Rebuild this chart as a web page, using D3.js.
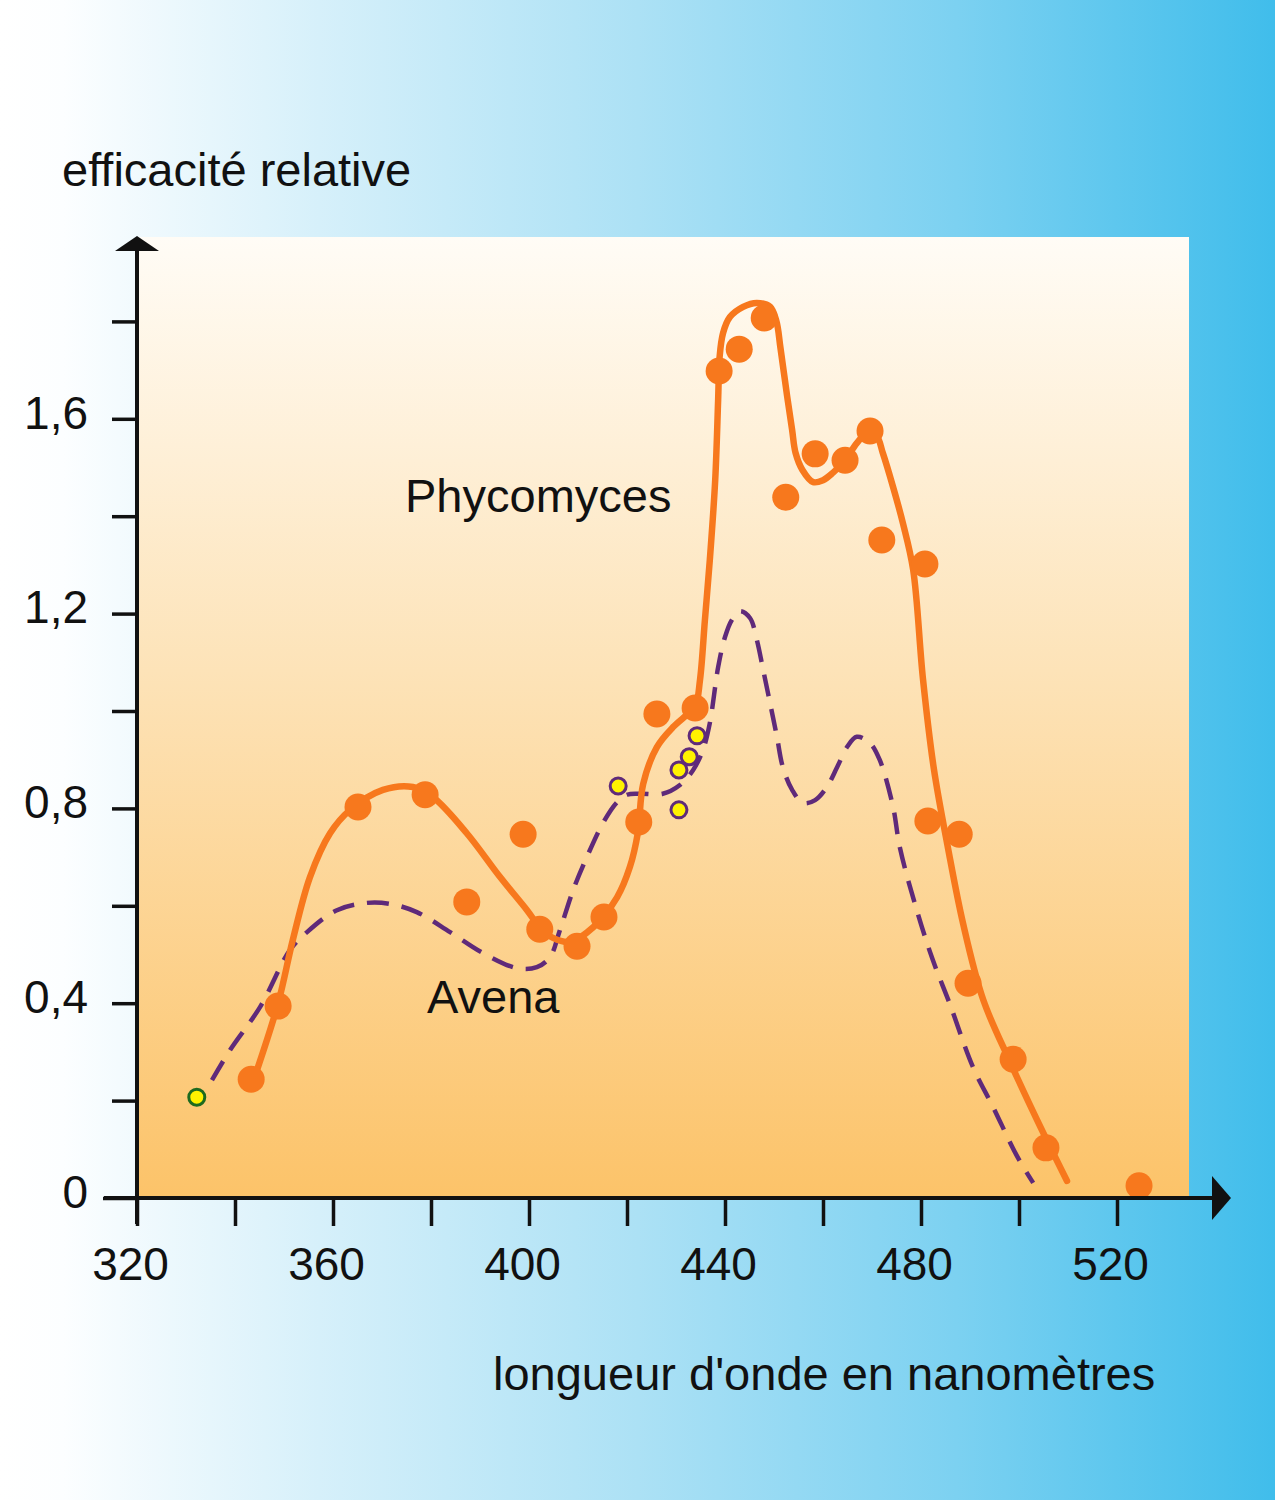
<!DOCTYPE html>
<html>
<head>
<meta charset="utf-8">
<script src="https://cdn.jsdelivr.net/npm/d3@7"></script>
<style>
  html, body { margin: 0; padding: 0; background: #fff; }
  svg { display: block; }
  text { font-family: "Liberation Sans", Arial, sans-serif; fill: #111; }
</style>
</head>
<body>
<svg id="chart" width="1275" height="1500"></svg>
<script>
// ---------- DATA ----------
const xTicks = [320, 340, 360, 380, 400, 420, 440, 460, 480, 500, 520];
const xTickLabels = ["320", "", "360", "", "400", "", "440", "", "480", "", "520"];
const yTicks = [0, 0.2, 0.4, 0.6, 0.8, 1.0, 1.2, 1.4, 1.6, 1.8];
const yTickLabels = ["0", "", "0,4", "", "0,8", "", "1,2", "", "1,6", ""];

// Phycomyces measured points (wavelength nm, relative efficiency)
const phycoX = [343.3, 348.8, 365.1, 378.8, 387.3, 398.8, 402.2, 409.8, 415.3, 422.4, 426.1, 433.9,
                438.8, 442.9, 448.0, 452.4, 458.4, 464.5, 469.6, 472.0, 480.8, 481.4, 487.8, 489.6,
                498.8, 505.5, 524.5];
const phycoY = [0.244, 0.394, 0.803, 0.828, 0.608, 0.747, 0.552, 0.517, 0.577, 0.772, 0.994, 1.006,
                1.698, 1.743, 1.807, 1.439, 1.528, 1.515, 1.575, 1.351, 1.302, 0.774, 0.747, 0.441,
                0.285, 0.103, 0.025];

// Phycomyces fitted curve
const phycoCurveX = [344.3, 348.8, 351.8, 355.3, 359.4, 363.5, 370.2, 376.3, 380.4, 387.3, 394.1, 399.6,
                     402.2, 404.9, 408.4, 413.1, 418.0, 420.6, 422.2, 423.3, 426.1, 429.4, 432.2, 433.9,
                     434.9, 435.9, 436.9, 438.0, 438.6, 438.9, 439.6, 441.0, 443.7, 446.5, 449.2, 450.5,
                     451.3, 452.7, 453.7, 454.4, 455.8, 458.0, 460.0, 462.0, 464.5, 466.9, 469.0, 471.0,
                     472.2, 474.3, 476.3, 478.4, 480.4, 482.6, 485.5, 488.6, 492.7, 498.2, 503.7, 509.8];
const phycoCurveY = [0.257, 0.400, 0.530, 0.659, 0.749, 0.797, 0.838, 0.844, 0.823, 0.749, 0.659, 0.591,
                     0.556, 0.534, 0.526, 0.556, 0.618, 0.680, 0.749, 0.850, 0.926, 0.967, 0.992, 1.008,
                     1.064, 1.187, 1.310, 1.474, 1.639, 1.727, 1.776, 1.809, 1.830, 1.838, 1.830, 1.800,
                     1.747, 1.645, 1.577, 1.530, 1.495, 1.470, 1.474, 1.489, 1.515, 1.550, 1.571, 1.563,
                     1.530, 1.460, 1.386, 1.290, 1.066, 0.883, 0.719, 0.563, 0.407, 0.279, 0.160, 0.035];

// Avena measured points
const avenaX = [332.2, 418.2, 430.6, 432.7, 434.3, 430.6];
const avenaY = [0.207, 0.846, 0.879, 0.906, 0.949, 0.797];

// Avena fitted curve
const avenaCurveX = [335.3, 339.0, 345.1, 351.2, 354.7, 360.8, 366.9, 371.6, 377.1, 383.9, 390.6, 397.6,
                     401.6, 404.3, 406.3, 409.0, 411.8, 415.1, 418.0, 420.0, 422.7, 427.3, 430.8, 433.5,
                     435.5, 436.9, 438.6, 440.0, 441.4, 443.1, 445.1, 446.5, 447.8, 449.2, 450.6, 451.8,
                     453.7, 455.9, 458.4, 460.8, 462.9, 464.9, 466.9, 469.6, 471.6, 474.3, 475.7, 479.2,
                     482.4, 485.9, 490.6, 494.7, 499.6, 502.9];
const avenaCurveY = [0.242, 0.304, 0.392, 0.509, 0.546, 0.591, 0.606, 0.604, 0.587, 0.546, 0.503, 0.472,
                     0.474, 0.495, 0.550, 0.632, 0.700, 0.770, 0.813, 0.828, 0.830, 0.830, 0.848, 0.879,
                     0.920, 0.975, 1.090, 1.152, 1.187, 1.205, 1.191, 1.146, 1.084, 1.016, 0.947, 0.885,
                     0.838, 0.811, 0.817, 0.844, 0.885, 0.926, 0.947, 0.934, 0.899, 0.803, 0.719, 0.589,
                     0.489, 0.398, 0.269, 0.187, 0.086, 0.031];

const title = "efficacité relative";
const xTitle = "longueur d'onde en nanomètres";
const seriesNames = ["Phycomyces", "Avena"];

// ---------- LAYOUT ----------
const W = 1275, H = 1500;
const plot = { left: 137, right: 1189, top: 237, bottom: 1198 };
const orange = "#f7781d", purple = "#5f2a7a", yellow = "#fff200", green = "#1d6a1f";
const tickFont = 46, labelFont = 47;

const svg = d3.select("#chart");
const defs = svg.append("defs");

const bgGrad = defs.append("linearGradient").attr("id", "bgGrad")
  .attr("x1", "0%").attr("x2", "100%").attr("y1", "0%").attr("y2", "0%");
[[0, "#ffffff"], [0.05, "#fcfeff"], [0.25, "#d6f0fa"], [0.5, "#ace1f5"], [0.75, "#7cd1f1"], [1, "#40bdeb"]]
  .forEach(([o, c]) => bgGrad.append("stop").attr("offset", o).attr("stop-color", c));

const plotGrad = defs.append("linearGradient").attr("id", "plotGrad")
  .attr("x1", "0%").attr("x2", "0%").attr("y1", "0%").attr("y2", "100%");
[[0, "#fffcf6"], [0.45, "#fde3b8"], [1, "#fcc369"]]
  .forEach(([o, c]) => plotGrad.append("stop").attr("offset", o).attr("stop-color", c));

svg.append("rect").attr("width", W).attr("height", H).attr("fill", "url(#bgGrad)");
svg.append("rect").attr("x", plot.left).attr("y", plot.top)
  .attr("width", plot.right - plot.left).attr("height", plot.bottom - plot.top)
  .attr("fill", "url(#plotGrad)");

const x = d3.scaleLinear().domain([320, 520]).range([137, 1117]);
const y = d3.scaleLinear().domain([0, 1.8]).range([1198, 1198 - 487 * 1.8]);

const line = d3.line().x(d => x(d[0])).y(d => y(d[1])).curve(d3.curveCatmullRom.alpha(0.5));

// Avena dashed curve
svg.append("path")
  .datum(avenaCurveX.map((v, i) => [v, avenaCurveY[i]]))
  .attr("d", line)
  .attr("fill", "none").attr("stroke", purple).attr("stroke-width", 4.5)
  .attr("stroke-dasharray", "22,13").attr("stroke-linecap", "butt");

// Phycomyces curve
svg.append("path")
  .datum(phycoCurveX.map((v, i) => [v, phycoCurveY[i]]))
  .attr("d", line)
  .attr("fill", "none").attr("stroke", orange).attr("stroke-width", 6.5)
  .attr("stroke-linecap", "round").attr("stroke-linejoin", "round");

// Phycomyces points
svg.append("g").selectAll("circle")
  .data(phycoX.map((v, i) => [v, phycoY[i]]))
  .join("circle")
  .attr("cx", d => x(d[0])).attr("cy", d => y(d[1])).attr("r", 13.5)
  .attr("fill", orange);

// Avena points
svg.append("g").selectAll("circle")
  .data(avenaX.map((v, i) => [v, avenaY[i]]))
  .join("circle")
  .attr("cx", d => x(d[0])).attr("cy", d => y(d[1])).attr("r", 8)
  .attr("fill", yellow)
  .attr("stroke", (d, i) => i === 0 ? green : purple).attr("stroke-width", 3);

// ---------- AXES ----------
const axisColor = "#111";
const xAxis = d3.axisBottom(x).tickValues(xTicks)
  .tickFormat((d, i) => xTickLabels[i]).tickSize(28).tickPadding(21);
const gx = svg.append("g").attr("transform", `translate(0,${plot.bottom})`).call(xAxis);
gx.select(".domain").remove();
gx.selectAll(".tick line").attr("stroke", axisColor).attr("stroke-width", 3.5);
gx.selectAll(".tick text").attr("font-size", tickFont).attr("fill", "#111")
  .attr("font-family", "Liberation Sans, Arial, sans-serif").attr("dx", -7);

const yAxis = d3.axisLeft(y).tickValues(yTicks)
  .tickFormat((d, i) => yTickLabels[i]).tickSize(25).tickPadding(24);
const gy = svg.append("g").attr("transform", `translate(${plot.left},0)`).call(yAxis);
gy.select(".domain").remove();
gy.selectAll(".tick line").attr("stroke", axisColor).attr("stroke-width", 3.5);
gy.selectAll(".tick text").attr("font-size", tickFont).attr("fill", "#111")
  .attr("font-family", "Liberation Sans, Arial, sans-serif").attr("dy", "0.2em");
gy.selectAll(".tick").filter(d => d === 0).select("line").attr("x2", -34);

// axis lines with arrows
svg.append("line").attr("x1", 104).attr("x2", 1214).attr("y1", plot.bottom).attr("y2", plot.bottom)
  .attr("stroke", axisColor).attr("stroke-width", 4);
svg.append("path").attr("d", `M1231,${plot.bottom} L1212,${plot.bottom - 22} L1212,${plot.bottom + 22} Z`)
  .attr("fill", axisColor);
svg.append("line").attr("x1", plot.left).attr("x2", plot.left).attr("y1", 1224).attr("y2", 250)
  .attr("stroke", axisColor).attr("stroke-width", 4);
svg.append("path").attr("d", `M${plot.left},236 L${plot.left - 22},251 L${plot.left + 22},251 Z`)
  .attr("fill", axisColor);

// ---------- TEXT ----------
svg.append("text").attr("x", 62).attr("y", 186).attr("font-size", labelFont).text(title);
svg.append("text").attr("x", 493).attr("y", 1390).attr("font-size", labelFont).text(xTitle);
svg.append("text").attr("x", 405).attr("y", 512).attr("font-size", labelFont).text(seriesNames[0]);
svg.append("text").attr("x", 427).attr("y", 1013).attr("font-size", labelFont).text(seriesNames[1]);
</script>
</body>
</html>
